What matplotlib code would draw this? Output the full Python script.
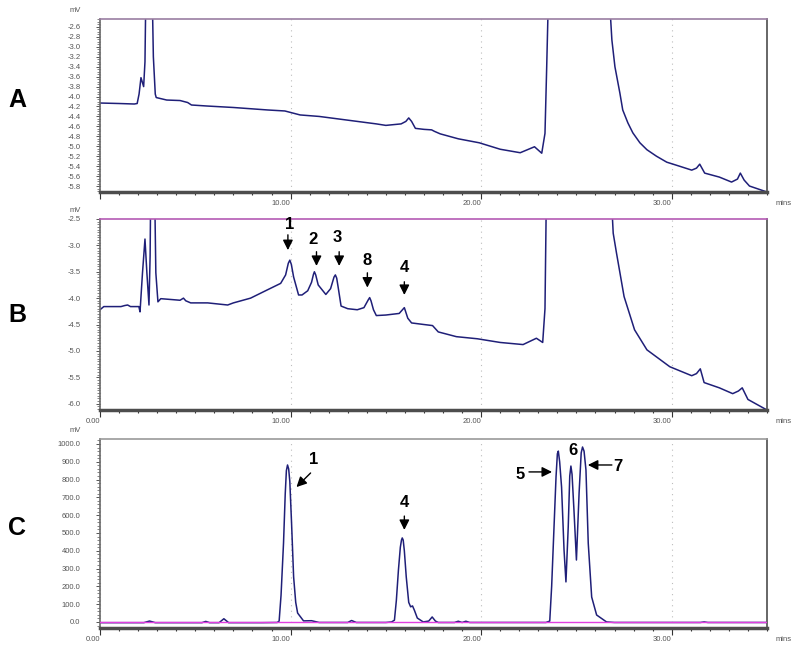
import matplotlib.pyplot as plt
from matplotlib.ticker import MultipleLocator, FormatStrFormatter, FuncFormatter

plt.rcParams['font.family'] = ['Liberation Sans', 'DejaVu Sans']
plt.rcParams['axes.unicode_minus'] = False

TRACE = '#1f1f78'

# chromatogram A (time in min, signal in mV)
a_time = [0.0, 1.0, 1.8, 1.95, 2.05, 2.15, 2.29, 2.36, 2.42, 2.72, 2.8, 2.9, 2.95, 3.5,
          4.2, 4.6, 4.8, 5.6, 7.0, 8.8, 9.7, 10.5, 11.5, 12.5, 13.5, 14.5, 15.0, 15.8,
          16.05, 16.2, 16.35, 16.55, 17.0, 17.4, 17.55, 17.85, 18.8, 19.9, 21.0, 22.05,
          22.8, 23.18, 23.35, 23.44, 23.56, 26.65, 26.86, 27.02, 27.28, 27.43, 27.7,
          27.96, 28.33, 28.7, 29.2, 29.74, 30.4, 31.05, 31.3, 31.47, 31.73, 32.5, 33.14,
          33.45, 33.6, 33.8, 34.08, 35.0]
a_mv = [-4.13, -4.14, -4.15, -4.14, -3.95, -3.62, -3.8, -3.3, -1.5, -1.5, -3.2, -3.95,
        -4.02, -4.07, -4.08, -4.12, -4.17, -4.19, -4.22, -4.27, -4.29, -4.37, -4.4, -4.45,
        -4.5, -4.55, -4.58, -4.55, -4.5, -4.43, -4.5, -4.64, -4.66, -4.67, -4.7, -4.75,
        -4.85, -4.93, -5.06, -5.13, -5.01, -5.14, -4.74, -3.4, -1.5, -1.5, -2.86, -3.4,
        -3.93, -4.27, -4.53, -4.73, -4.93, -5.07, -5.2, -5.32, -5.4, -5.48, -5.44, -5.36,
        -5.54, -5.62, -5.72, -5.66, -5.54, -5.68, -5.8, -5.92]

# chromatogram B
b_time = [0.0, 0.2, 1.1, 1.3, 1.45, 1.6, 2.04, 2.1, 2.23, 2.36, 2.46, 2.57, 2.63, 2.67,
          2.85, 2.93, 3.04, 3.19, 3.87, 4.2, 4.38, 4.5, 4.76, 5.65, 6.7, 7.0, 7.9, 8.8,
          9.48, 9.74, 9.88, 9.96, 10.04, 10.16, 10.42, 10.6, 10.9, 11.1, 11.2, 11.25,
          11.32, 11.45, 11.85, 12.1, 12.28, 12.35, 12.42, 12.5, 12.65, 13.0, 13.5, 13.85,
          14.08, 14.15, 14.22, 14.35, 14.5, 15.0, 15.7, 15.97, 16.15, 16.35, 17.0, 17.45,
          17.75, 18.7, 19.8, 21.0, 22.2, 22.9, 23.23, 23.35, 23.44, 26.75, 26.93, 27.1,
          27.5, 28.05, 28.7, 29.9, 31.05, 31.3, 31.5, 31.7, 32.5, 33.2, 33.5, 33.7, 34.0,
          35.0]
b_mv = [-4.22, -4.16, -4.16, -4.14, -4.13, -4.16, -4.16, -4.26, -3.52, -2.88, -3.52,
        -4.13, -3.2, -1.5, -1.5, -3.52, -4.07, -4.01, -4.03, -4.04, -4.0, -4.05, -4.09,
        -4.09, -4.13, -4.09, -4.0, -3.84, -3.72, -3.56, -3.34, -3.28, -3.36, -3.6, -3.94,
        -3.94, -3.86, -3.7, -3.55, -3.5, -3.56, -3.75, -3.93, -3.82, -3.6, -3.56, -3.62,
        -3.8, -4.15, -4.2, -4.22, -4.18, -4.03, -3.99, -4.05, -4.22, -4.33, -4.32, -4.29,
        -4.18, -4.38, -4.47, -4.5, -4.52, -4.64, -4.73, -4.77, -4.84, -4.88, -4.76, -4.84,
        -4.2, -1.5, -1.5, -2.77, -3.14, -3.97, -4.6, -4.98, -5.3, -5.47, -5.43, -5.34,
        -5.6, -5.7, -5.81, -5.76, -5.7, -5.92, -6.12]

# chromatogram C
c_time = [0.0, 2.3, 2.6, 2.9, 5.35, 5.55, 5.75, 6.25, 6.5, 6.75, 8.5, 9.3, 9.4, 9.5,
          9.63, 9.72, 9.78, 9.84, 9.9, 9.96, 10.05, 10.16, 10.27, 10.37, 10.68, 11.1,
          11.5, 13.0, 13.2, 13.45, 15.0, 15.3, 15.45, 15.55, 15.66, 15.76, 15.82, 15.86,
          15.91, 15.97, 16.07, 16.2, 16.3, 16.4, 16.5, 16.65, 16.96, 17.25, 17.43, 17.6,
          17.75, 18.6, 18.8, 19.0, 19.2, 19.4, 23.4, 23.6, 23.7, 23.79, 23.93, 24.0, 24.05,
          24.12, 24.22, 24.35, 24.45, 24.57, 24.65, 24.71, 24.77, 24.87, 25.0, 25.14,
          25.25, 25.32, 25.4, 25.5, 25.62, 25.8, 26.06, 26.58, 27.0, 31.5, 31.7, 31.9,
          35.0]
c_mv = [-4, -4, 5, -4, -4, 3, -4, -4, 18, -4, -4, -3, 5, 150, 443, 720, 850, 882, 860,
        790, 560, 253, 110, 50, 6, 7, -3, -3, 8, -3, -3, 0, 10, 120, 292, 420, 460, 472,
        460, 400, 253, 110, 85, 90, 65, 22, 0, 5, 28, 5, -3, -3, 4, -3, 4, -3, -3, 5,
        200, 442, 816, 945, 960, 900, 758, 404, 225, 534, 820, 876, 830, 629, 348, 725,
        950, 983, 960, 854, 443, 140, 39, 0, -3, -3, 0, -3, -3]
c_baseline = 0.0

# peak labels: text, text position, arrow tail, arrow head
b_labels = [
    ("1", (9.95, -2.6), (9.86, -2.8), (9.86, -3.09)),
    ("2", (11.2, -2.88), (11.36, -3.12), (11.36, -3.39)),
    ("3", (12.46, -2.86), (12.55, -3.12), (12.55, -3.39)),
    ("8", (14.03, -3.28), (14.03, -3.52), (14.03, -3.8)),
    ("4", (15.97, -3.41), (15.97, -3.69), (15.97, -3.94)),
]
c_labels = [
    ("1", (11.2, 910), (11.05, 837), (10.31, 758)),
    ("4", (15.97, 669), (15.97, 595), (15.97, 517)),
    ("5", (22.04, 831), (22.51, 843), (23.72, 843)),
    ("6", (24.82, 961), None, None),
    ("7", (27.17, 876), (26.86, 882), (25.6, 882)),
]


def style(ax, ylim, ymajor, yminor, yfmt, top_color, show_zero=True):
    ax.set_xlim(0, 35)
    ax.set_ylim(*ylim)
    ax.spines['bottom'].set_color('#4d4d4d')
    ax.spines['bottom'].set_linewidth(2.5)
    ax.spines['left'].set_color('#6a6a6a')
    ax.spines['left'].set_linewidth(1.2)
    ax.spines['right'].set_color('#4d4d4d')
    ax.spines['right'].set_linewidth(1.2)
    ax.spines['top'].set_color(top_color)
    ax.spines['top'].set_linewidth(1.2)
    ax.xaxis.set_major_locator(MultipleLocator(10))
    ax.xaxis.set_minor_locator(MultipleLocator(1))
    if show_zero:
        ax.xaxis.set_major_formatter(FormatStrFormatter('%.2f'))
    else:
        ax.xaxis.set_major_formatter(FuncFormatter(lambda v, p: '' if v == 0 else '%.2f' % v))
    ax.yaxis.set_major_locator(MultipleLocator(ymajor))
    ax.yaxis.set_minor_locator(MultipleLocator(yminor))
    ax.yaxis.set_major_formatter(FormatStrFormatter(yfmt))
    ax.tick_params(axis='x', which='major', length=5, width=0.8, color='#333333',
                   labelsize=5.5, labelcolor='#555555', pad=1)
    ax.tick_params(axis='x', which='minor', length=2.5, width=0.8, color='#333333')
    ax.tick_params(axis='y', which='major', length=3, width=0.7, color='#555555',
                   labelsize=5.5, labelcolor='#555555', pad=11)
    ax.tick_params(axis='y', which='minor', length=2, width=0.5, color='#555555')
    ax.grid(axis='x', which='major', color='#bdbdbd', linestyle=(0, (1, 4)), linewidth=0.8)
    plt.setp(ax.get_xticklabels(), ha='right')
    ax.annotate('mins', xy=(1, 0), xycoords='axes fraction', xytext=(6, -8),
                textcoords='offset points', va='center', ha='left', fontsize=5.5,
                color='#555555')
    ax.annotate('mV', xy=(0, 1), xycoords='axes fraction', xytext=(-14, 6),
                textcoords='offset points', va='center', ha='right', fontsize=5.5,
                color='#555555')


def label_peaks(ax, labels):
    for text, pos, tail, head in labels:
        ax.text(pos[0], pos[1], text, ha='center', va='center', fontsize=12,
                fontweight='bold', color='black')
        if tail is not None:
            ax.annotate('', xy=head, xytext=tail,
                        arrowprops=dict(arrowstyle='-|>', color='black', lw=1.0,
                                        mutation_scale=15, shrinkA=0, shrinkB=0))


fig = plt.figure(figsize=(8, 6.49), dpi=100)
axA = fig.add_axes([100 / 800, 1 - 192 / 649, 667 / 800, 173 / 649])
axB = fig.add_axes([100 / 800, 1 - 410 / 649, 667 / 800, 191 / 649])
axC = fig.add_axes([100 / 800, 1 - 628 / 649, 667 / 800, 189 / 649])

axA.plot(a_time, a_mv, color=TRACE, lw=1.1)
style(axA, (-5.92, -2.44), 0.2, 0.05, '%.1f', '#9a7ea2', show_zero=False)

axB.plot(b_time, b_mv, color=TRACE, lw=1.1)
style(axB, (-6.12, -2.5), 0.5, 0.05, '%.1f', '#b45ab4')
label_peaks(axB, b_labels)

axC.plot(c_time, c_mv, color=TRACE, lw=1.1)
axC.axhline(c_baseline, color='#e040e0', lw=1.0, zorder=3)
style(axC, (-34, 1028), 100, 20, '%.1f', '#999999')
label_peaks(axC, c_labels)

for letter, y in [('A', 100), ('B', 315), ('C', 528)]:
    fig.text(17 / 800, 1 - y / 649, letter, ha='center', va='center', fontsize=18,
             fontweight='bold')

fig.savefig('out.png', dpi=100)
